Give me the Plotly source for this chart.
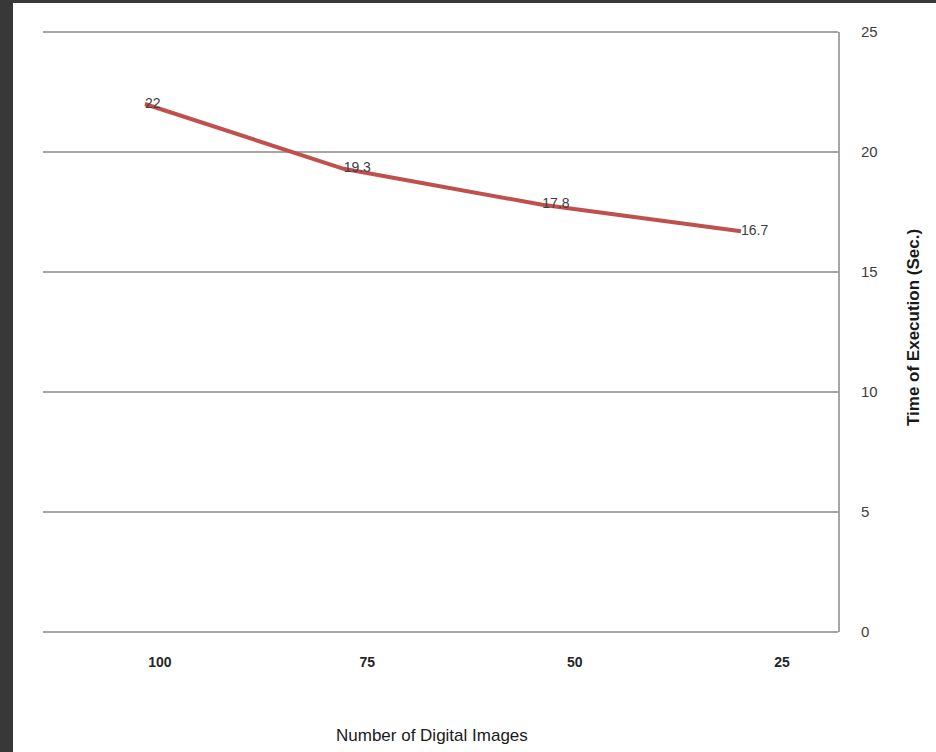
import plotly.graph_objects as go

# Data
images = ["100", "75", "50", "25"]
exec_time = [22, 19.3, 17.8, 16.7]
exec_labels = ["22", "19.3", "17.8", "16.7"]
y_ticks = [0, 5, 10, 15, 20, 25]

W, H = 936, 752
L, R, T, B = 43, 98, 32, 120
pw, ph = W - L - R, H - T - B

def px_x(p):
    return (p - L) / pw

def px_y(p):
    return (H - B - p) / ph

font_family = "Liberation Sans Narrow, Liberation Sans, Arial, sans-serif"
grid = "#a6a6a6"

fig = go.Figure()

fig.add_trace(go.Scatter(
    x=images, y=exec_time,
    mode="lines+text",
    text=exec_labels,
    textposition="middle right",
    textfont=dict(family=font_family, size=14, color="#404040"),
    line=dict(color="#c0504d", width=4),
    hoverinfo="x+y",
    showlegend=False,
    cliponaxis=False,
    xaxis="x", yaxis="y",
))

# invisible trace to register tick categories on the label axis
fig.add_trace(go.Scatter(
    x=images, y=exec_time,
    mode="markers",
    marker=dict(opacity=0, size=1),
    hoverinfo="skip",
    showlegend=False,
    xaxis="x2", yaxis="y",
))

fig.update_layout(
    width=W, height=H,
    margin=dict(l=L, r=R, t=T, b=B, pad=0),
    paper_bgcolor="#383838",
    plot_bgcolor="#ffffff",
    font=dict(family=font_family, size=12, color="#404040"),
    xaxis=dict(
        type="category",
        categoryorder="array", categoryarray=images,
        range=[-0.513, 3.488],
        showgrid=False, zeroline=False, showline=False,
        showticklabels=False, ticks="",
        fixedrange=True,
    ),
    xaxis2=dict(
        type="category",
        categoryorder="array", categoryarray=images,
        overlaying="x", anchor="y", side="bottom",
        range=[-0.564, 3.27],
        showgrid=False, zeroline=False, showline=False,
        ticks="",
        tickfont=dict(family=font_family, size=14, color="#262626", weight="bold"),
        ticklabelstandoff=20,
        fixedrange=True,
    ),
    yaxis=dict(
        side="right",
        range=[0, 25],
        tickvals=y_ticks,
        showgrid=True, gridcolor=grid, gridwidth=2,
        zeroline=False,
        showline=True, linecolor=grid, linewidth=2,
        ticks="",
        tickfont=dict(family=font_family, size=15, color="#404040"),
        ticklabelstandoff=18,
        fixedrange=True,
    ),
    shapes=[dict(
        type="rect", xref="paper", yref="paper", layer="below",
        x0=px_x(13), x1=px_x(W + 5), y0=px_y(3), y1=px_y(H + 5),
        fillcolor="#ffffff", line=dict(width=0),
    ), dict(
        type="line", xref="paper", yref="paper", layer="above",
        x0=0, x1=1, y0=0, y1=0,
        line=dict(color=grid, width=2),
    ), dict(
        type="line", xref="paper", yref="paper", layer="above",
        x0=0, x1=1, y0=1, y1=1,
        line=dict(color=grid, width=2),
    )],
    annotations=[
        dict(
            text="Number of Digital Images",
            xref="paper", yref="paper",
            x=px_x(432), y=px_y(735),
            xanchor="center", yanchor="middle",
            showarrow=False,
            font=dict(family=font_family, size=17, color="#1a1a1a"),
        ),
        dict(
            text="Time of Execution (Sec.)",
            xref="paper", yref="paper",
            x=px_x(913), y=px_y(328),
            xanchor="center", yanchor="middle",
            textangle=-90,
            showarrow=False,
            font=dict(family=font_family, size=17, color="#1a1a1a", weight="bold"),
        ),
    ],
)

fig.write_html(
    "out.html",
    config={"displayModeBar": False},
    post_script="document.body.style.margin='0';document.body.style.padding='0';",
)
